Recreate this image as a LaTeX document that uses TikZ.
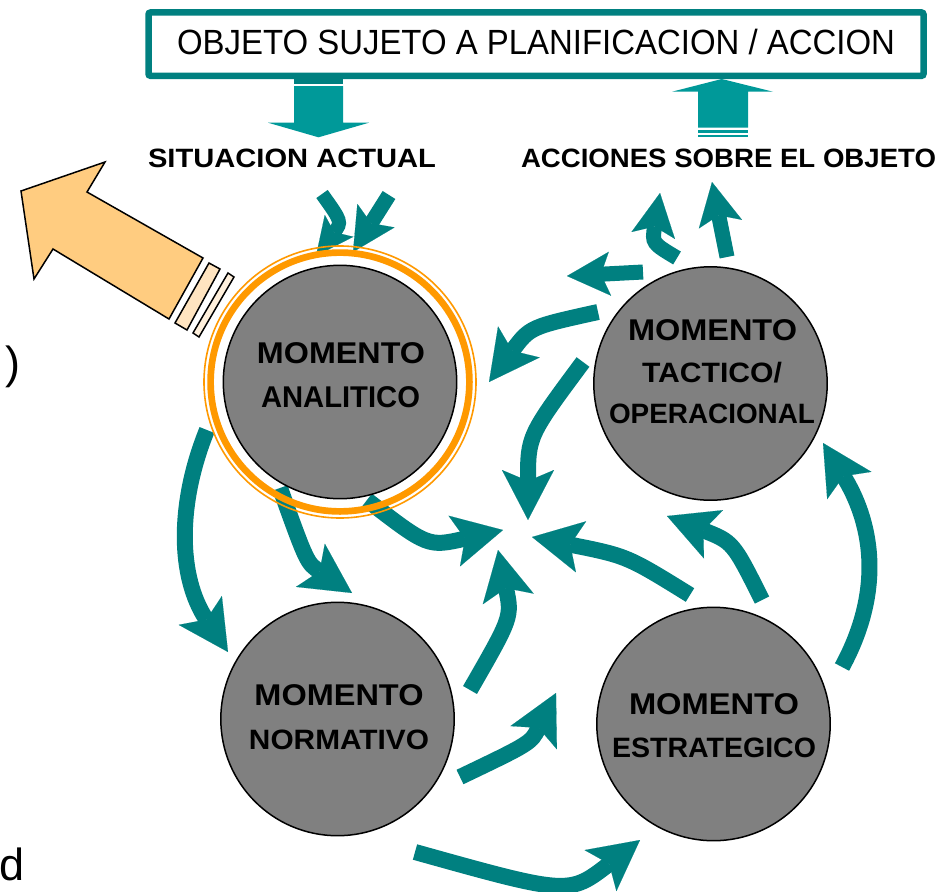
\documentclass[tikz,border=0pt]{standalone}
\usepackage{fontspec}
\setmainfont{Liberation Sans}
\usetikzlibrary{arrows.meta}
\definecolor{teala}{HTML}{008080}
\definecolor{tealb}{HTML}{009999}
\definecolor{ringor}{HTML}{FF9900}
\definecolor{arrowor}{HTML}{FFCC80}
\definecolor{stripea}{HTML}{FFE4C0}
\definecolor{stripeb}{HTML}{FFF0DC}
\definecolor{circgray}{HTML}{808080}
\newcommand\fitx[2]{\resizebox{#1}{\height}{#2}}
\tikzset{
  flow/.style={draw=teala, line width=16pt, -{Stealth[length=50pt,width=52pt,inset=11pt,line width=0.1pt]}},
  flowsm/.style={draw=teala, line width=15pt, -{Stealth[length=43pt,width=44pt,inset=9pt,line width=0.1pt]}},
  flowxs/.style={draw=teala, line width=14pt, -{Stealth[length=38pt,width=36pt,inset=8pt,line width=0.1pt]}},
  moment/.style={circle, draw=black, line width=1.5pt, fill=circgray, minimum size=233.4pt, inner sep=0pt},
  txtbig/.style={anchor=base, inner sep=0pt, font=\bfseries\fontsize{30}{30}\selectfont},
  txtsm/.style={anchor=base, inner sep=0pt, font=\bfseries\fontsize{28}{28}\selectfont},
  lbl/.style={anchor=base, inner sep=0pt, font=\bfseries\fontsize{26.5}{26.5}\selectfont},
  frag/.style={anchor=base east, inner sep=0pt, font=\fontsize{45}{45}\selectfont},
}
\begin{document}
\begin{tikzpicture}[x=1pt,y=-1pt]
\useasboundingbox (0,0) rectangle (952,891);
\fill[white] (0,0) rectangle (952,891);

% top box
\node[draw=teala, line width=6.5pt, rounded corners=2pt, fill=white,
      minimum width=775pt, minimum height=63.3pt, inner sep=0pt] (box) at (536,44.15) {};
\node[anchor=base, inner sep=0pt, font=\fontsize{35}{35}\selectfont] (title) at (536,55)
  {\fitx{718pt}{OBJETO SUJETO A PLANIFICACION / ACCION}};

% block arrows
\fill[teala] (294,79) rectangle (343,83.5);
\fill[tealb] (294,86) -- (343,86) -- (343,122.7) -- (369,122.7) -- (318.5,137.3)
  -- (268,122.7) -- (294,122.7) -- cycle;
\fill[tealb] (698,127.7) -- (698,91.7) -- (672,91.7) -- (721.7,79) -- (773,91.7)
  -- (748,91.7) -- (748,127.7) -- cycle;
\fill[tealb] (698,130) rectangle (748,133.3);
\fill[tealb] (698,135) rectangle (748,137.3);

\node[lbl] (sit) at (292,167) {\fitx{288pt}{SITUACION ACTUAL}};
\node[lbl] (acc) at (728.5,167) {\fitx{415pt}{ACCIONES SOBRE EL OBJETO}};

% fragments at left edge
\node[frag] (fragA) at (21,378) {)};
\node[frag] (fragB) at (25,880) {d};

% arrow coordinates
\coordinate (A1) at (727,257); \coordinate (A2) at (712,182);
\coordinate (B1) at (677,258); \coordinate (Bc) at (652,243); \coordinate (B2) at (660,193);
\coordinate (C1) at (643,272); \coordinate (C2) at (567,276);
\coordinate (D1) at (598,312); \coordinate (Dc) at (530,327); \coordinate (D2) at (489,382);
\coordinate (E1) at (583,362); \coordinate (Ec) at (528,436); \coordinate (E2) at (528,520);
\coordinate (F1) at (690,595); \coordinate (Fc) at (627,556); \coordinate (F2) at (532,537);
\coordinate (G1) at (762,600); \coordinate (Gc) at (733,542); \coordinate (G2) at (667,516);
\coordinate (H1) at (842,667); \coordinate (Hc) at (886,586); \coordinate (Hd) at (870,519); \coordinate (H2) at (823,443);
\coordinate (I1) at (207,430); \coordinate (Ic) at (177,504); \coordinate (Id) at (178,577); \coordinate (I2) at (228,652);
\coordinate (J1) at (280,488); \coordinate (Jc) at (307,563); \coordinate (J2) at (352,593);
\coordinate (K1) at (367,500); \coordinate (Kc) at (428,547); \coordinate (K2) at (503,530);
\coordinate (L1) at (470,690); \coordinate (Lc) at (512,617); \coordinate (L2) at (498,550);
\coordinate (M1) at (460,777); \coordinate (Mc) at (531,743); \coordinate (M2) at (556,693);
\coordinate (N1) at (415,852); \coordinate (Nc) at (569,895); \coordinate (N2) at (640,840);
\coordinate (P1) at (322,194); \coordinate (Pc) at (342,222); \coordinate (P2) at (316,256);
\coordinate (Q1) at (389,195); \coordinate (Q2) at (353,252);

% curved arrows
\draw[flowsm] (A1) -- (A2);
\draw[flowsm] (B1) .. controls (Bc) .. (B2);
\draw[flowsm] (C1) -- (C2);
\draw[flow] (D1) .. controls (Dc) .. (D2);
\draw[flow] (E1) .. controls (Ec) .. (E2);
\draw[flow] (F1) .. controls (Fc) .. (F2);
\draw[flow] (G1) .. controls (Gc) .. (G2);
\draw[flow] (H1) .. controls (Hc) and (Hd) .. (H2);
\draw[flow] (I1) .. controls (Ic) and (Id) .. (I2);
\draw[flow] (J1) .. controls (Jc) .. (J2);
\draw[flow] (K1) .. controls (Kc) .. (K2);
\draw[flow] (L1) .. controls (Lc) .. (L2);
\draw[flow] (M1) .. controls (Mc) .. (M2);
\draw[flow] (N1) .. controls (Nc) .. (N2);
\draw[flowxs] (P1) .. controls (Pc) .. (P2);
\draw[flowsm] (Q1) -- (Q2);

% circles
\coordinate (anaC) at (340,382);
\draw[ringor, line width=6.7pt] (anaC) circle[radius=129.4pt];
\draw[ringor, line width=1.6pt] (anaC) circle[radius=136pt];
\node[moment] (ana) at (anaC) {};
\node[moment] (tac) at (710.5,383.5) {};
\node[moment] (nor) at (337.5,719) {};
\node[moment] (est) at (713.5,724) {};

\node[txtbig] (anaA) at (341,363) {\fitx{168pt}{MOMENTO}};
\node[txtbig] (anaB) at (340.5,407) {\fitx{159pt}{ANALITICO}};
\node[txtbig] (tacA) at (712.5,340) {\fitx{169pt}{MOMENTO}};
\node[txtsm] (tacB) at (712,382) {\fitx{140pt}{TACTICO/}};
\node[txtsm] (tacC) at (712,423) {\fitx{206pt}{OPERACIONAL}};
\node[txtbig] (norA) at (339,705) {\fitx{169pt}{MOMENTO}};
\node[txtsm] (norB) at (339,749) {\fitx{180pt}{NORMATIVO}};
\node[txtbig] (estA) at (714,714) {\fitx{170pt}{MOMENTO}};
\node[txtsm] (estB) at (714,757) {\fitx{204pt}{ESTRATEGICO}};

% big orange arrow
\draw[black, line width=1.5pt, fill=arrowor, line join=miter]
  (21,191) -- (105,162) -- (87,192) -- (203,258) -- (169,319) -- (53,249) -- (34,279) -- cycle;
\draw[black, line width=1.5pt, fill=stripea] (209,263) -- (220,269) -- (187,330) -- (175,323) -- cycle;
\draw[black, line width=1.5pt, fill=stripeb] (228,273) -- (234,277) -- (199,337) -- (193,333) -- cycle;
\end{tikzpicture}
\end{document}
